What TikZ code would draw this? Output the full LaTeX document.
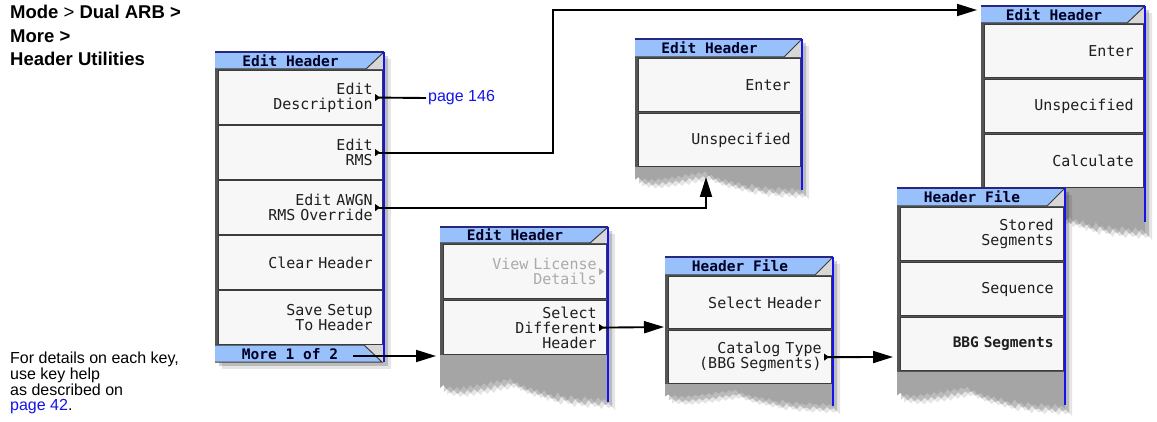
\documentclass[tikz,border=0pt]{standalone}
\usepackage{fontspec}
\setmainfont{Liberation Sans}
\newfontfamily\menufont{DejaVu Sans Mono}
\usetikzlibrary{arrows.meta,calc}
\definecolor{titleblue}{RGB}{152,192,250}
\definecolor{keyfill}{RGB}{247,247,247}
\definecolor{keyedge}{RGB}{60,60,60}
\definecolor{bodydark}{RGB}{85,85,85}
\definecolor{tornfill}{RGB}{165,165,165}
\definecolor{edgeblue}{RGB}{20,20,240}
\definecolor{topnavy}{RGB}{40,40,130}
\definecolor{linkblue}{RGB}{20,20,230}
\definecolor{menutext}{RGB}{30,30,30}
\definecolor{greytext}{RGB}{170,170,170}
\definecolor{cornergray}{RGB}{215,215,215}
\def\jaglist{1.00/30,.98/26,.96/28,.94/24,.92/29,.90/25,.88/27,.86/23,.84/28,.82/25,.80/26,.78/22,.76/27,.74/23,.72/24,.70/19,.68/25,.66/21,.64/22,.62/17,.60/21,.58/16,.56/18,.54/14,.52/17,.50/12,.48/14,.46/9,.44/11,.42/5,.40/8,.38/6,.36/10,.34/7,.32/11,.30/8,.28/13,.26/10,.24/14,.22/11,.20/15,.18/12,.16/16,.14/13,.12/17,.10/14,.08/17,.06/13,.04/16,.02/12,.00/15}
% #1 style, #2 x0, #3 x1, #4 top, #5 kb, #6 offset, #7 scale
\newcommand\tornshape[7]{\fill[#1] (#2,#4) -- (#3,#4) -- (#3,#5) \foreach \f/\d in \jaglist { -- ({#2+\f*(#3-#2)},{#5+#6+#7*\d}) } -- cycle;}
% #1 x0, #2 x1, #3 top, #4 height, #5 name, #6 text
\newcommand\titlebar[6]{%
 \fill[titleblue] (#1,#3) -- (#2,#3) -- ({#2-18},{#3+#4}) -- (#1,{#3+#4}) -- cycle;
 \fill[cornergray] (#2,#3) -- (#2,{#3+#4}) -- ({#2-18},{#3+#4}) -- cycle;
 \draw[keyedge, line width=1pt] (#1,{#3+#4}) -- ({#2-18},{#3+#4}) -- (#2,#3);
 \draw[topnavy, line width=1.5pt] (#1,#3) -- (#2,#3);
 \node[titletext] (#5) at ({(#1+#2-18)/2},{#3+#4/2}) {#6};}
\newcommand\kmark[2][black]{\fill[#1] ($(#2.east)+(-3pt,0pt)$) -- ++(-5pt,3.5pt) -- ++(0pt,-7pt) -- cycle;
 \coordinate (#2m) at ($(#2.east)+(-4pt,0pt)$);}
\newcommand\menusize{\menufont\fontsize{15}{15}\selectfont\spaceskip=0.602em\relax}
\newcommand\menubold{\menufont\bfseries\fontsize{14.5}{15}\selectfont\spaceskip=0.602em\relax}
\begin{document}
\begin{tikzpicture}[x=1pt,y=-1pt,
 keybox/.style={draw=keyedge, fill=keyfill, line width=1.2pt, anchor=north west, inner xsep=10pt, inner ysep=0pt, align=right, font=\menusize, text=menutext},
 titletext/.style={inner sep=0pt, font=\menubold, text=black!85!blue},
 shadeA/.style={fill=black, opacity=0.18},
 shadeB/.style={fill=black, opacity=0.10},
 blueedge/.style={draw=edgeblue, line width=2pt},
 conn/.style={draw=black, line width=1.9pt},
 arr/.style={conn, -{Triangle[length=20pt,width=12pt]}},
 plain/.style={inner sep=0pt, anchor=north west, align=left, text=black}]
\fill[white] (0,0) rectangle (1157,422);
\useasboundingbox (0,0) rectangle (1157,422);

% ---- side texts
\node[plain, font=\fontsize{18.5}{23.5}\selectfont] (nav) at (10,5)
 {\textbf{Mode} > \textbf{Dual ARB >}\\\textbf{More >}\\\textbf{Header Utilities}};
\node[plain, font=\fontsize{16}{15.7}\selectfont] (help) at (10,352)
 {For details on each key,\\use key help\\as described on\\\textcolor{linkblue}{page 42}.};

% ---- Panel A (main Edit Header)
\fill[shadeB] (222,59) rectangle (391,369);
\fill[shadeA] (219,56) rectangle (388,366);
\fill[bodydark] (215,52) rectangle (384,362);
\node[keybox, minimum width=164pt, minimum height=54pt, text width=144pt] (a1) at (218,70) {Edit\\Description};
\node[keybox, minimum width=164pt, minimum height=54pt, text width=144pt] (a2) at (218,125) {Edit\\RMS};
\node[keybox, minimum width=164pt, minimum height=54pt, text width=144pt] (a3) at (218,180) {Edit AWGN\\RMS Override};
\node[keybox, minimum width=164pt, minimum height=54pt, text width=144pt] (a4) at (218,235) {Clear Header};
\node[keybox, minimum width=164pt, minimum height=54pt, text width=144pt] (a5) at (218,290) {Save Setup\\To Header};
\titlebar{215}{384}{52}{17}{aT}{Edit Header}
\fill[titleblue] (215,345) -- (364,345) -- (382,362) -- (215,362) -- cycle;
\fill[cornergray] (364,345) -- (384,345) -- (384,362) -- (382,362) -- cycle;
\draw[keyedge, line width=1pt] (215,345) -- (364,345) -- (382,362) -- (215,362);
\node[titletext] (amore) at (290,354) {More 1 of 2};
\draw[blueedge] (384,52) -- (384,362);
\kmark{a1}\kmark{a2}\kmark{a3}
\coordinate (moreS) at (353,356);

% ---- Panel B (Edit Header: Enter / Unspecified)
\tornshape{shadeB, shift={(7pt,-7pt)}}{635}{802}{39}{167}{0}{0.85}
\tornshape{shadeA, shift={(4pt,-4pt)}}{635}{802}{39}{167}{0}{0.85}
\tornshape{tornfill}{635}{802}{167}{167}{0}{0.85}
\fill[bodydark] (635,39) rectangle (802,167);
\node[keybox, minimum width=162pt, minimum height=53pt, text width=142pt] (b1) at (638,58) {Enter};
\node[keybox, minimum width=162pt, minimum height=53pt, text width=142pt] (b2) at (638,113) {Unspecified};
\titlebar{635}{802}{39}{18}{bT}{Edit Header}
\draw[blueedge] (802,39) -- (802,190);
\coordinate (bIn) at (706,177);

% ---- Panel C (Edit Header: View License / Select Different)
\tornshape{shadeB, shift={(7pt,-7pt)}}{440}{608}{227}{355}{18}{1.0}
\tornshape{shadeA, shift={(4pt,-4pt)}}{440}{608}{227}{355}{18}{1.0}
\tornshape{tornfill}{440}{608}{355}{355}{18}{1.0}
\fill[bodydark] (440,227) rectangle (608,355);
\node[keybox, minimum width=163pt, minimum height=54pt, text width=143pt, text=greytext] (c1) at (443,244) {View License\\Details};
\node[keybox, minimum width=163pt, minimum height=54pt, text width=143pt] (c2) at (443,300) {Select\\Different\\Header};
\titlebar{440}{608}{227}{16}{cT}{Edit Header}
\draw[blueedge] (608,227) -- (608,402);
\kmark[greytext]{c1}\kmark{c2}
\coordinate (cIn) at (436,356);

% ---- Panel D (Header File: Select Header / Catalog Type)
\tornshape{shadeB, shift={(7pt,-7pt)}}{665}{833}{257}{384}{2}{0.7}
\tornshape{shadeA, shift={(4pt,-4pt)}}{665}{833}{257}{384}{2}{0.7}
\tornshape{tornfill}{665}{833}{384}{384}{2}{0.7}
\fill[bodydark] (665,257) rectangle (833,384);
\node[keybox, minimum width=163pt, minimum height=52pt, text width=143pt] (d1) at (668,276) {Select Header};
\node[keybox, minimum width=163pt, minimum height=53pt, text width=143pt] (d2) at (668,330) {Catalog Type\\(BBG Segments)};
\titlebar{665}{833}{257}{18}{dT}{Header File}
\draw[blueedge] (833,257) -- (833,406);
\kmark{d2}
\coordinate (dIn) at (664,327);

% ---- Panel E (Edit Header: Enter / Unspecified / Calculate)
\tornshape{shadeB, shift={(7pt,-7pt)}}{981}{1145}{6}{188}{15}{1.0}
\tornshape{shadeA, shift={(4pt,-4pt)}}{981}{1145}{6}{188}{15}{1.0}
\tornshape{tornfill}{981}{1145}{188}{188}{15}{1.0}
\fill[bodydark] (981,6) rectangle (1145,188);
\node[keybox, minimum width=159pt, minimum height=53pt, text width=139pt] (e1) at (984,24) {Enter};
\node[keybox, minimum width=159pt, minimum height=53pt, text width=139pt] (e2) at (984,79) {Unspecified};
\node[keybox, minimum width=159pt, minimum height=53pt, text width=139pt] (e3) at (984,134) {Calculate};
\titlebar{981}{1145}{6}{17}{eT}{Edit Header}
\draw[blueedge] (1145,6) -- (1145,222);
\coordinate (eIn) at (977,10);

% ---- Panel F (Header File: Stored / Sequence / BBG)
\tornshape{shadeB, shift={(7pt,-7pt)}}{897}{1065}{188}{372}{10}{0.9}
\tornshape{shadeA, shift={(4pt,-4pt)}}{897}{1065}{188}{372}{10}{0.9}
\tornshape{tornfill}{897}{1065}{372}{372}{10}{0.9}
\fill[bodydark] (897,188) rectangle (1065,372);
\node[keybox, minimum width=163pt, minimum height=53pt, text width=143pt] (f1) at (900,207) {Stored\\Segments};
\node[keybox, minimum width=163pt, minimum height=53pt, text width=143pt] (f2) at (900,262) {Sequence};
\node[keybox, minimum width=163pt, minimum height=53pt, text width=143pt, font=\menubold] (f3) at (900,317) {BBG Segments};
\titlebar{897}{1065}{188}{18}{fT}{Header File}
\draw[blueedge] (1065,188) -- (1065,405);
\coordinate (fIn) at (893,357);

% ---- connectors
\node[inner sep=2pt, anchor=west, text=linkblue, font=\fontsize{16}{18}\selectfont] (p146) at (426,98) {page 146};
\draw[conn] (a1m) -- (p146.west);
\coordinate (rmsbend) at (553,10);
\draw[arr] (a2m) -| (rmsbend) -- (eIn);
\draw[arr] (a3m) -| (bIn);
\draw[arr] (moreS) -- (cIn);
\draw[arr] (c2m) -- (dIn);
\draw[arr] (d2m) -- (fIn);
\end{tikzpicture}
\end{document}
